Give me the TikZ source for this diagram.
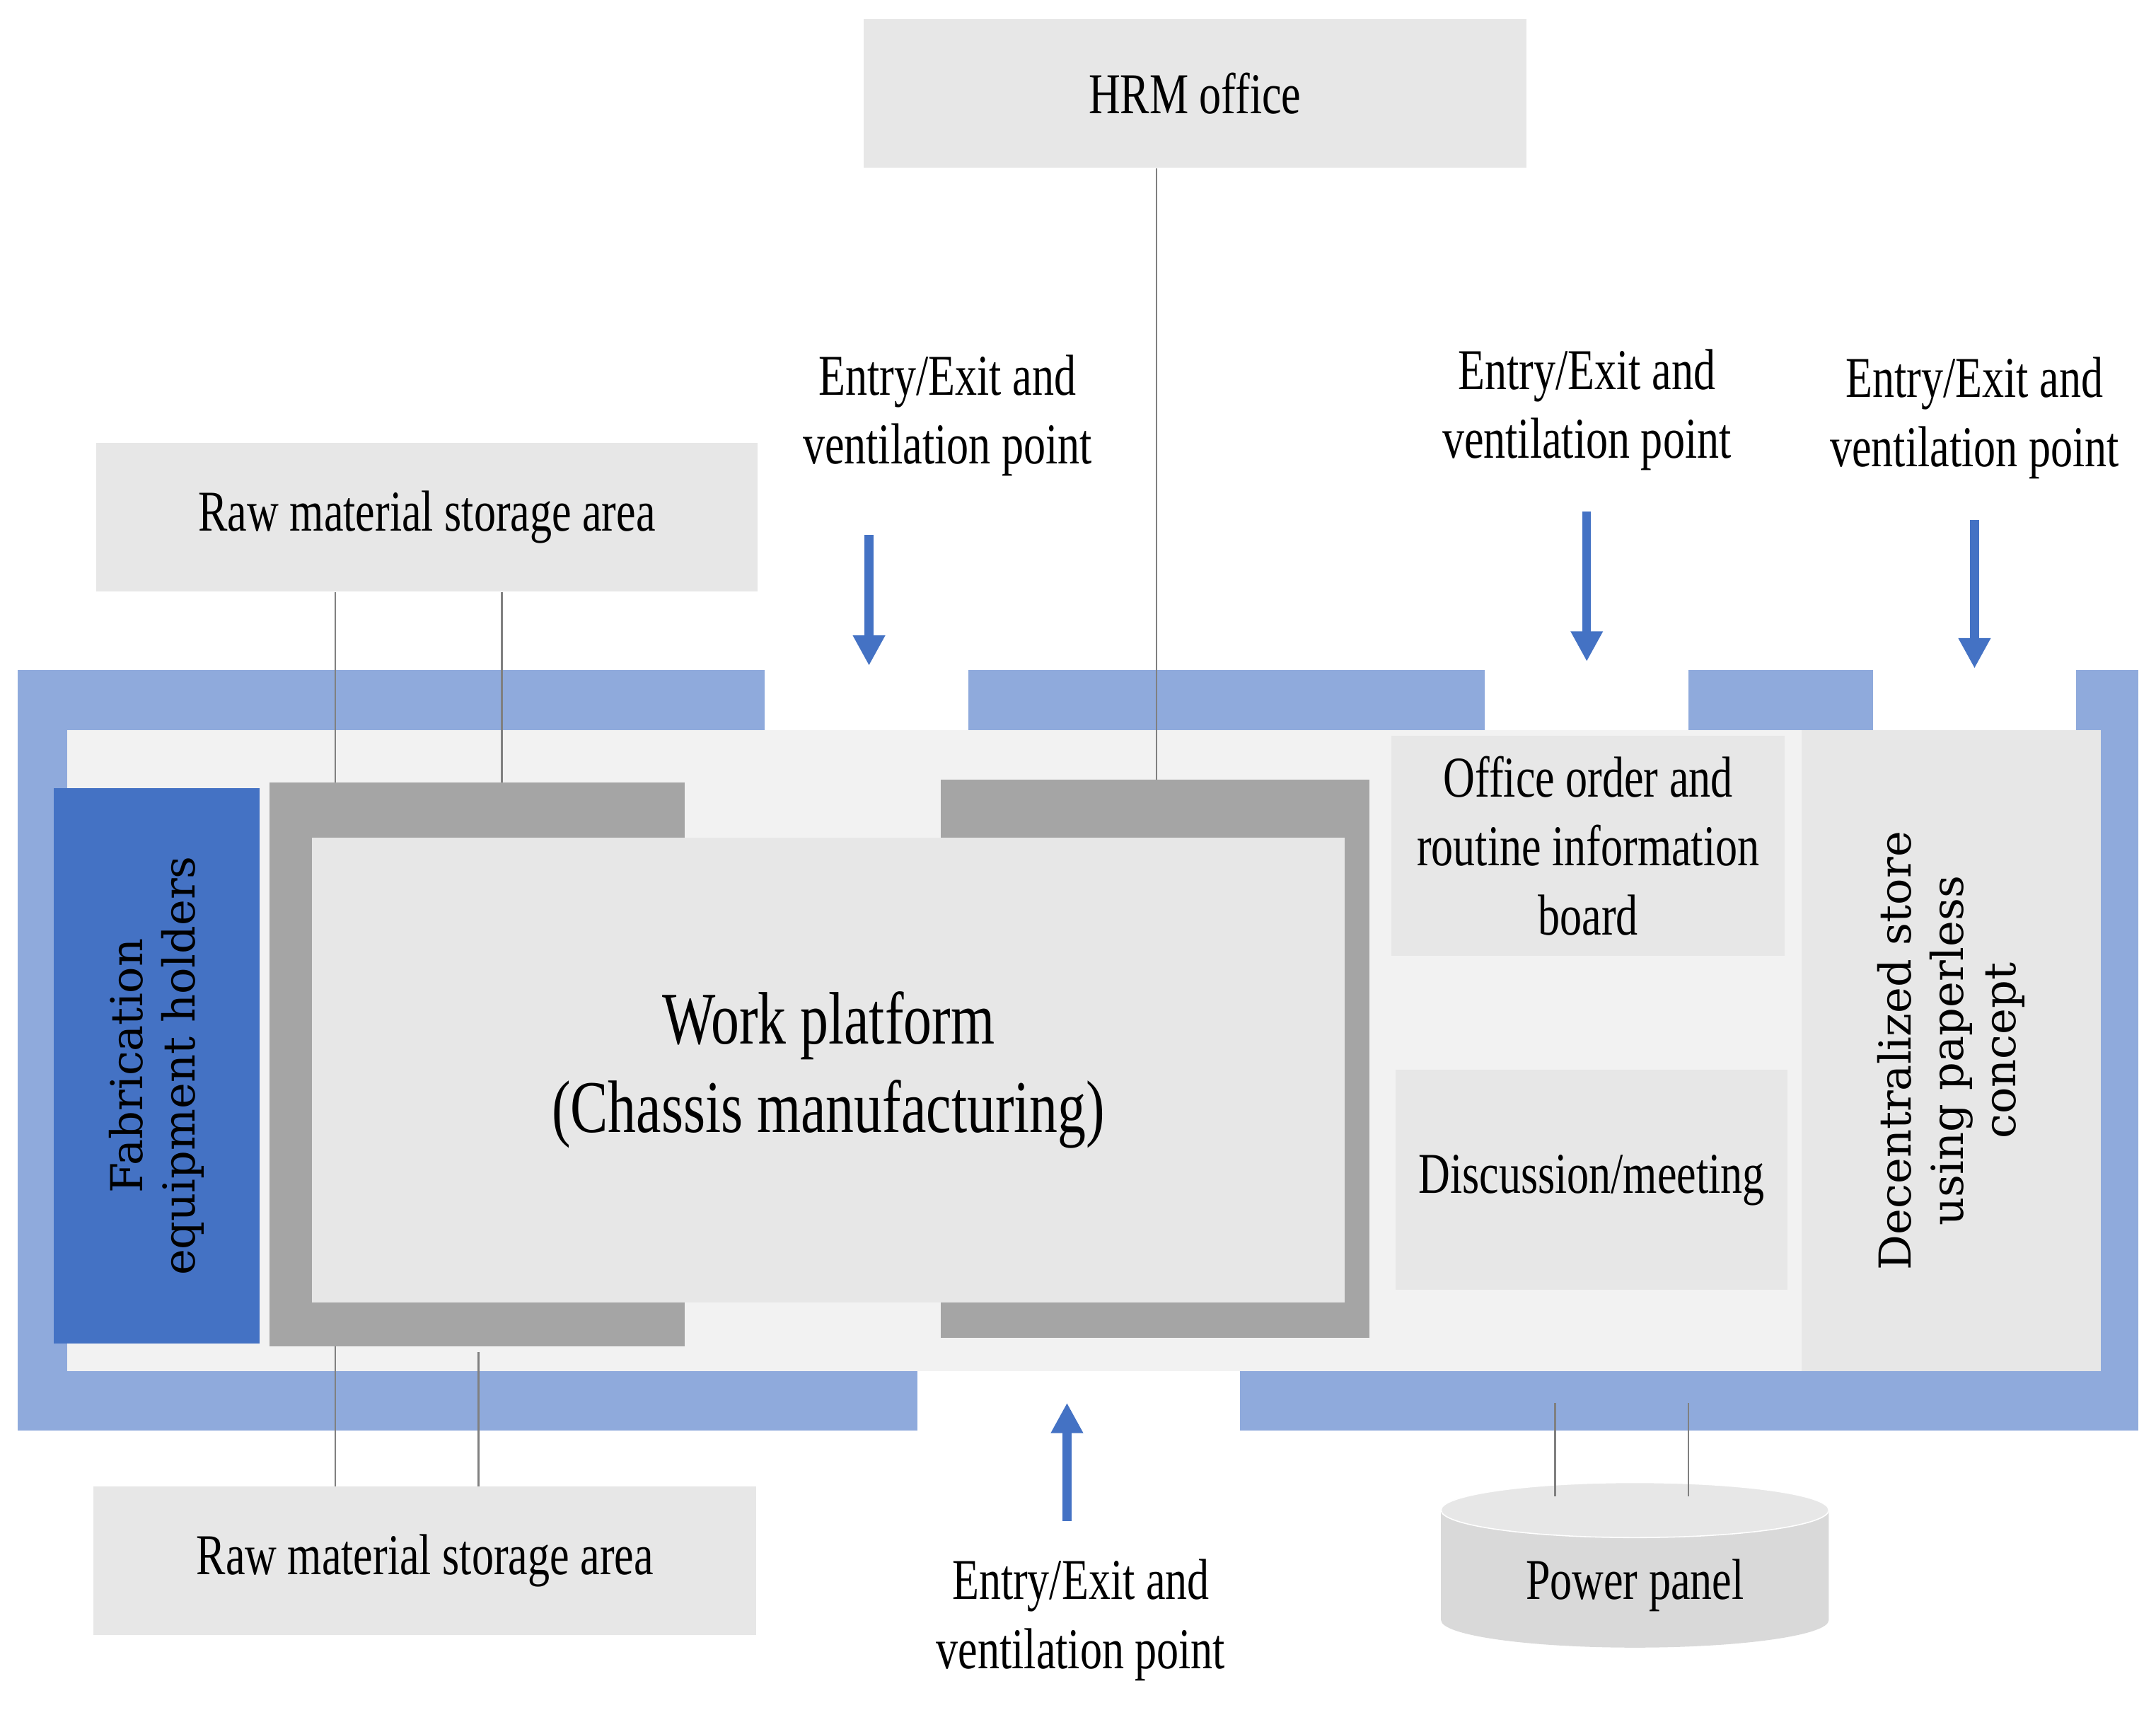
\documentclass[tikz,border=0pt]{standalone}
\usepackage{fontspec}
\setmainfont{Liberation Serif}[FakeStretch=0.76]
\newfontfamily\wideserif{DejaVu Serif}
\usetikzlibrary{arrows.meta}
\begin{document}
\begin{tikzpicture}[x=0.5pt,y=-0.5pt,
  lbl/.style={font=\fontsize{21}{25}\selectfont,align=center,inner sep=0pt},
  box/.style={fill=boxgray,draw=none,lbl},
  conn/.style={draw=linegray,line width=0.6pt},
  arr/.style={draw=arrblue,line width=3.2pt,-{Triangle[length=11pt,width=11pt]}},
  rot/.style={rotate=90,font=\wideserif\fontsize{16}{19}\selectfont,align=center,inner sep=0pt}]
\definecolor{frameblue}{HTML}{8FAADC}
\definecolor{arrblue}{HTML}{4472C4}
\definecolor{boxgray}{HTML}{E7E7E7}
\definecolor{floor}{HTML}{F2F2F2}
\definecolor{dkgray}{HTML}{A5A5A5}
\definecolor{linegray}{HTML}{808080}
\definecolor{cylgray}{HTML}{D9D9D9}
\useasboundingbox[fill=white] (0,0) rectangle (1568,1243);
% frame
\fill[frameblue] (13,487) rectangle (1555,1040);
\fill[floor] (49,531) rectangle (1528,997);
\fill[white] (556,486) rectangle (704,531);
\fill[white] (1080,486) rectangle (1228,531);
\fill[white] (1362,486) rectangle (1510,531);
\fill[white] (667,997) rectangle (902,1041);
% platform
\fill[dkgray] (196,569) rectangle (498,979);
\fill[dkgray] (684,567) rectangle (996,973);
\node[box,minimum width=375.5pt,minimum height=169pt,font=\fontsize{27}{32}\selectfont] (work) at (602.5,778) {Work platform\\(Chassis manufacturing)};
\node[fill=arrblue,minimum width=75pt,minimum height=202pt,inner sep=0pt] (fab) at (114,775) {};
\node[rot] at (fab) {Fabrication\\equipment holders};
\node[box,minimum width=109pt,minimum height=233pt] (dec) at (1419,764) {};
\node[rot] at (dec) {Decentralized store\\using paperless\\concept};
\node[box,minimum width=143pt,minimum height=80pt] (office) at (1155,615) {Office order and\\routine information\\board};
\node[box,minimum width=142.5pt,minimum height=80pt] (disc) at (1157.5,858) {Discussion/meeting};
% outside boxes
\node[box,minimum width=241pt,minimum height=54pt] (hrm) at (869,68) {HRM office};
\node[box,minimum width=240.5pt,minimum height=54pt] (rawt) at (310.5,376) {Raw material storage area};
\node[box,minimum width=241pt,minimum height=54pt] (rawb) at (309,1135) {Raw material storage area};
% power panel
\fill[cylgray] (1048,1098) -- (1048,1178) arc[start angle=180,end angle=0,x radius=141,y radius=20] -- (1330,1098) -- cycle;
\filldraw[fill=boxgray,draw=white] (1189,1098) ellipse[x radius=141,y radius=20];
\node[lbl] (power) at (1189,1153) {Power panel};
\coordinate (pw1) at (1131,1088); \coordinate (pw2) at (1228,1088);
\coordinate (pf1) at (1131,1020); \coordinate (pf2) at (1228,1020);
% connectors
\coordinate (h1) at (841,567);
\draw[conn] (hrm.south -| h1) -- (h1);
\coordinate (rt1) at (244,569); \coordinate (rt2) at (365,569);
\draw[conn] (rawt.south -| rt1) -- (rt1);
\draw[conn] (rawt.south -| rt2) -- (rt2);
\coordinate (rb1) at (244,979); \coordinate (rb2) at (348,983);
\draw[conn] (rawb.north -| rb1) -- (rb1);
\draw[conn] (rawb.north -| rb2) -- (rb2);
\draw[conn] (pw1) -- (pf1);
\draw[conn] (pw2) -- (pf2);
% entries
\node[lbl] (e1) at (689,302) {Entry/Exit and\\ventilation point};
\node[lbl] (e2) at (1154,298) {Entry/Exit and\\ventilation point};
\node[lbl] (e3) at (1436,304) {Entry/Exit and\\ventilation point};
\node[lbl] (e4) at (786,1178) {Entry/Exit and\\ventilation point};
\coordinate (a1s) at (632,389); \coordinate (a1e) at (632,484);
\coordinate (a2s) at (1154,372); \coordinate (a2e) at (1154,481);
\coordinate (a3s) at (1436,378); \coordinate (a3e) at (1436,486);
\coordinate (a4s) at (776,1106); \coordinate (a4e) at (776,1020);
\draw[arr] (a1s) -- (a1e);
\draw[arr] (a2s) -- (a2e);
\draw[arr] (a3s) -- (a3e);
\draw[arr] (a4s) -- (a4e);
\end{tikzpicture}
\end{document}
